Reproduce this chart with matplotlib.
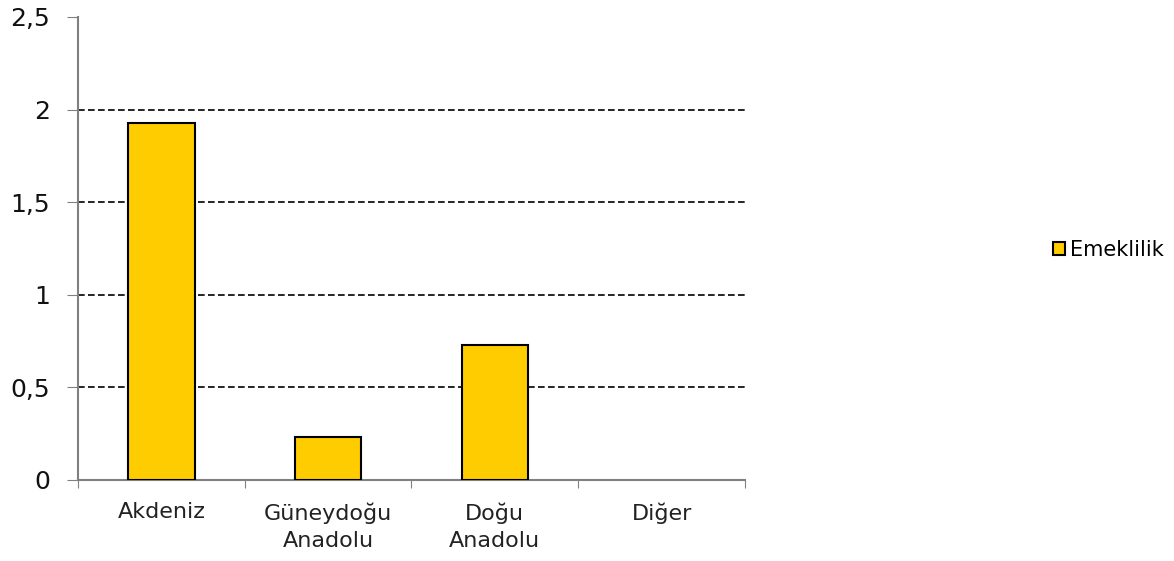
import matplotlib
matplotlib.use("Agg")
import matplotlib.pyplot as plt
from matplotlib.patches import Patch

categories = ["Akdeniz", "Güneydoğu\nAnadolu", "Doğu\nAnadolu", "Diğer"]
values = [1.93, 0.23, 0.73, 0.0]
series_name = "Emeklilik"
yticks = [0, 0.5, 1, 1.5, 2, 2.5]
ytick_labels = ["0", "0,5", "1", "1,5", "2", "2,5"]

plt.rcParams['font.family'] = ['DejaVu Sans']

fig = plt.figure(figsize=(11.74, 5.61), dpi=100)
ax = fig.add_axes([0.0664, 0.1444, 0.5682, 0.8253])

x = list(range(len(categories)))
bars = ax.bar(x, values, width=0.4, color="#FFCC00", edgecolor="black", linewidth=1.5, zorder=3)
for b, v in zip(bars, values):
    if v == 0:
        b.set_linewidth(0)

ax.set_xlim(-0.5, len(categories) - 0.5)
ax.set_ylim(0, 2.5)
ax.set_yticks(yticks)
ax.set_yticklabels(ytick_labels, fontsize=18, color="#111111")
for y in yticks[1:-1]:
    ax.axhline(y, color="black", linestyle=(0, (4, 2)), linewidth=1.2, zorder=1)

ax.set_xticks([i - 0.5 for i in range(len(categories) + 1)])
ax.set_xticklabels([])
ax.set_xticks(x, minor=True)
ax.set_xticklabels(categories, minor=True, fontsize=16, color="#222222", linespacing=1.45)
ax.tick_params(axis="x", which="minor", length=0, pad=16)
ax.tick_params(axis="x", which="major", length=6, color="#808080", direction="out")
ax.tick_params(axis="y", length=8, color="#808080", direction="out", pad=12)

for s in ["top", "right"]:
    ax.spines[s].set_visible(False)
for s in ["left", "bottom"]:
    ax.spines[s].set_color("#808080")
    ax.spines[s].set_linewidth(1.5)

handle = Patch(facecolor="#FFCC00", edgecolor="black", linewidth=1.5, label=series_name)
fig.legend(handles=[handle], loc="center left", bbox_to_anchor=(0.888, 0.555),
           frameon=False, fontsize=15, handlelength=0.6, handleheight=0.6,
           handletextpad=0.2, borderpad=0)

fig.savefig("out.png", dpi=100)
